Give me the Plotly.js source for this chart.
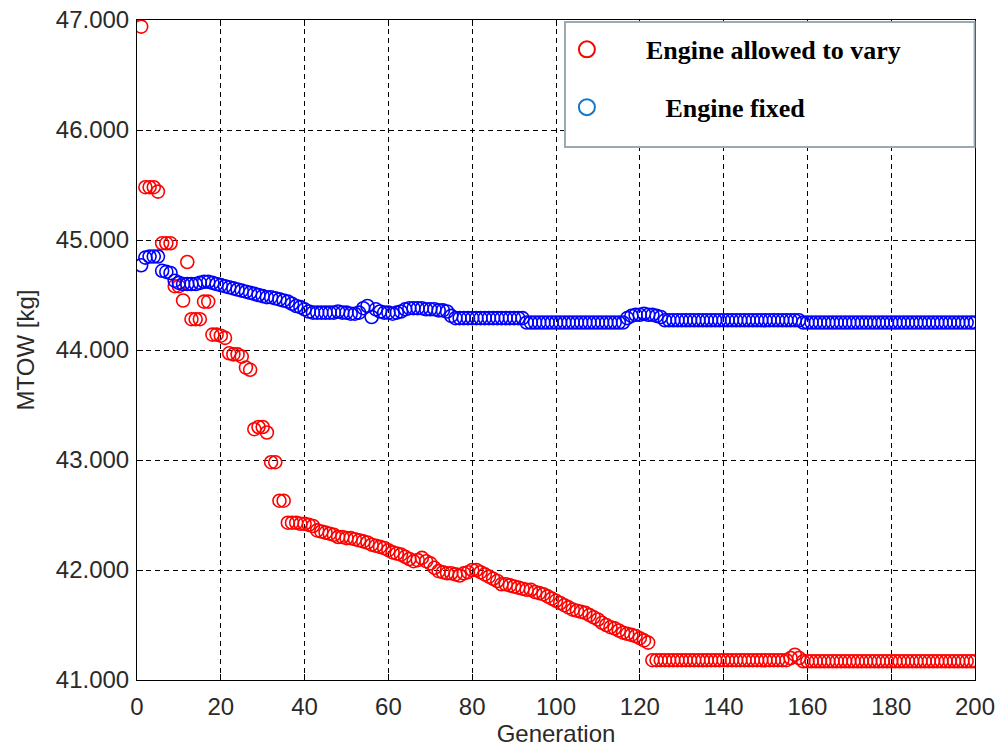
<!DOCTYPE html>
<html>
<head>
<meta charset="utf-8">
<script src="https://cdn.plot.ly/plotly-3.0.1.min.js"></script>
<style>html,body{margin:0;padding:0;background:#fff;}#chart{width:998px;height:747px;}</style>
</head>
<body>
<div id="chart"></div>
<script>
// Generations 1..200
const generations = [];
for (let g = 1; g <= 200; g++) generations.push(g);

// MTOW [kg] - Engine allowed to vary (red)
const mtowEngineVary = [
  46940,
  45480, 45480, 45480, 45440,
  44970, 44970, 44970,
  44580, 44580,
  44450,
  44800,
  44280, 44280, 44280,
  44440, 44440,
  44140, 44140, 44130, 44110,
  43970, 43960, 43960, 43940,
  43840, 43820,
  43280, 43300, 43300, 43250,
  42980, 42980,
  42630, 42630,
  42430, 42430, 42430, 42420, 42420, 42410, 42400, 42360,
  42350, 42340, 42330, 42320,
  42300, 42300, 42290, 42290,
  42280, 42270, 42260, 42250, 42230, 42220, 42210, 42200, 42180,
  42160, 42150, 42140, 42120, 42100,
  42080, 42090, 42110, 42080, 42060,
  42020, 41990, 41980, 41970, 41970, 41960, 41950, 41970, 41980,
  42000, 42000, 41980, 41960, 41940, 41920, 41900, 41870,
  41870, 41860, 41850, 41840, 41830, 41820, 41820, 41800, 41790, 41780, 41760, 41740, 41720,
  41700, 41680, 41660, 41640, 41630, 41620, 41610, 41590,
  41570, 41550, 41520, 41500, 41480, 41470, 41450,
  41430, 41420, 41410, 41400, 41380, 41360, 41340,
  41180, 41180, 41180, 41180, 41180, 41180, 41180, 41180, 41180, 41180, 41180,
  41180, 41180, 41180, 41180, 41180, 41180, 41180, 41180, 41180, 41180, 41180,
  41180, 41180, 41180, 41180, 41180, 41180, 41180, 41180, 41180, 41180, 41180,
  41200, 41230, 41200,
  41170, 41170, 41170, 41170, 41170, 41170, 41170, 41170, 41170, 41170, 41170, 41170, 41170, 41170,
  41170, 41170, 41170, 41170, 41170, 41170, 41170, 41170, 41170, 41170, 41170, 41170, 41170, 41170,
  41170, 41170, 41170, 41170, 41170, 41170, 41170, 41170, 41170, 41170, 41170, 41170, 41170, 41170
];

// MTOW [kg] - Engine fixed (blue)
const mtowEngineFixed = [
  44770,
  44840, 44850, 44850, 44850,
  44720, 44710, 44700,
  44630, 44610, 44600, 44600,
  44600, 44600, 44610, 44620, 44620, 44610, 44600, 44590, 44580, 44570, 44560, 44550, 44540,
  44530, 44520, 44510, 44500, 44490, 44480, 44480,
  44470, 44460, 44450, 44440, 44420, 44400,
  44390, 44370, 44350, 44340, 44340, 44340, 44340,
  44340, 44340, 44350, 44340, 44340, 44330, 44330, 44340,
  44380, 44400, 44300, 44370,
  44350, 44340, 44340, 44330, 44340, 44350,
  44370, 44380, 44380, 44380, 44380, 44370, 44370, 44370, 44360, 44360, 44350,
  44310, 44290, 44290, 44290, 44290, 44290, 44290, 44290, 44290, 44290,
  44290, 44290, 44290, 44290, 44290, 44290, 44290, 44290,
  44250, 44250, 44250, 44250, 44250, 44250, 44250, 44250, 44250, 44250, 44250, 44250,
  44250, 44250, 44250, 44250, 44250, 44250, 44250, 44250, 44250, 44250, 44250, 44250,
  44290, 44310, 44320, 44320, 44330, 44320, 44320, 44310, 44300,
  44270, 44270, 44270, 44270, 44270, 44270, 44270, 44270, 44270, 44270, 44270,
  44270, 44270, 44270, 44270, 44270, 44270, 44270, 44270, 44270, 44270, 44270,
  44270, 44270, 44270, 44270, 44270, 44270, 44270, 44270, 44270, 44270, 44270,
  44250, 44250, 44250, 44250, 44250, 44250, 44250, 44250, 44250, 44250, 44250, 44250, 44250, 44250,
  44250, 44250, 44250, 44250, 44250, 44250, 44250, 44250, 44250, 44250, 44250, 44250, 44250, 44250,
  44250, 44250, 44250, 44250, 44250, 44250, 44250, 44250, 44250, 44250, 44250, 44250, 44250, 44250
];

const seriesNames = ['Engine allowed to vary', 'Engine fixed'];
const xTickVals = [0, 20, 40, 60, 80, 100, 120, 140, 160, 180, 200];
const xTickLabels = ['0', '20', '40', '60', '80', '100', '120', '140', '160', '180', '200'];
const yTickVals = [41000, 42000, 43000, 44000, 45000, 46000, 47000];
const yTickLabels = ['41.000', '42.000', '43.000', '44.000', '45.000', '46.000', '47.000'];

const NB = '\u00A0';
const traces = [
  {
    x: generations, y: mtowEngineVary, type: 'scatter', mode: 'markers',
    marker: {symbol: 'circle-open', size: 13, color: '#ff0000', line: {width: 1.6, color: '#ff0000'}},
    showlegend: false, hoverinfo: 'x+y'
  },
  {
    x: generations, y: mtowEngineFixed, type: 'scatter', mode: 'markers',
    marker: {symbol: 'circle-open', size: 13, color: '#0000ff', line: {width: 1.6, color: '#0000ff'}},
    showlegend: false, hoverinfo: 'x+y'
  },
  {
    x: [null], y: [null], type: 'scatter', mode: 'markers', name: NB.repeat(6) + seriesNames[0],
    legendgroup: 'a',
    marker: {symbol: 'circle-open', size: 18, color: '#ff0000', line: {width: 2, color: '#ff0000'}}
  },
  {
    x: [null], y: [null], type: 'scatter', mode: 'markers', name: NB.repeat(9) + seriesNames[1],
    legendgroup: 'b',
    marker: {symbol: 'circle-open', size: 18, color: '#1874c8', line: {width: 2, color: '#1874c8'}}
  }
];

const axisFont = {family: 'Liberation Sans, Arial, sans-serif', size: 24, color: '#2a2a2a'};
const layout = {
  width: 998, height: 747,
  margin: {l: 137, r: 23, t: 20, b: 67, pad: 0},
  paper_bgcolor: '#fff', plot_bgcolor: '#fff',
  showlegend: true,
  legend: {
    x: 0.513, y: 0.991, xanchor: 'left', yanchor: 'top',
    bgcolor: 'rgba(0,0,0,0)', bordercolor: 'rgba(0,0,0,0)', borderwidth: 0,
    font: {family: 'Liberation Serif, Times New Roman, serif', size: 26, color: '#000', weight: 'bold'},
    traceorder: 'grouped', tracegroupgap: 21, itemsizing: 'trace'
  },
  shapes: [{
    type: 'rect', xref: 'paper', yref: 'paper', layer: 'above',
    x0: 0.5107, x1: 0.9995, y0: 0.8076, y1: 0.997,
    fillcolor: '#ffffff', line: {color: '#9aaab2', width: 2}
  }],
  xaxis: {
    range: [0, 200], tickvals: xTickVals, ticktext: xTickLabels,
    showline: true, mirror: 'ticks', linecolor: '#000', linewidth: 1,
    ticks: 'inside', ticklen: 6, tickcolor: '#000', ticklabelstandoff: 5,
    showgrid: true, gridcolor: '#000', gridwidth: 1, griddash: '5px,4px',
    zeroline: false, tickfont: axisFont,
    title: {text: 'Generation', font: axisFont, standoff: 4}
  },
  yaxis: {
    range: [41000, 47000], tickvals: yTickVals, ticktext: yTickLabels,
    showline: true, mirror: 'ticks', linecolor: '#000', linewidth: 1,
    ticks: 'inside', ticklen: 6, tickcolor: '#000', ticklabelstandoff: 2,
    showgrid: true, gridcolor: '#000', gridwidth: 1, griddash: '5px,4px',
    zeroline: false, tickfont: axisFont,
    title: {text: 'MTOW [kg]', font: axisFont, standoff: 14}
  }
};

Plotly.newPlot('chart', traces, layout, {displayModeBar: false, staticPlot: true});
</script>
</body>
</html>
